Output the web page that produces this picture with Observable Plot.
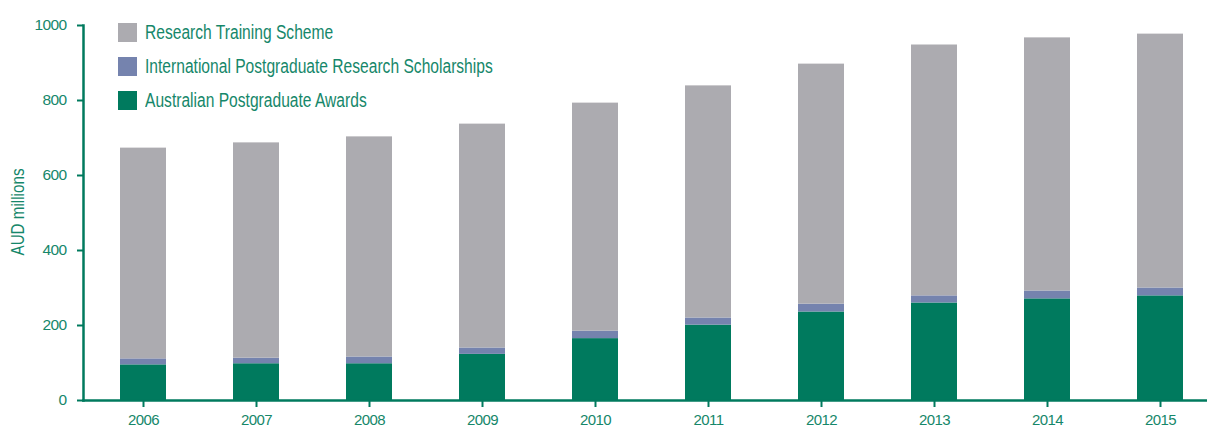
<!DOCTYPE html>
<html>
<head>
<meta charset="utf-8">
<script src="https://cdn.jsdelivr.net/npm/d3@7"></script>
<script src="https://cdn.jsdelivr.net/npm/@observablehq/plot@0.6"></script>
<style>
  html, body { margin: 0; padding: 0; background: #fff; }
  #wrap { position: relative; width: 1207px; height: 430px; font-family: "Liberation Sans Narrow", "Liberation Sans", sans-serif; font-stretch: condensed; }
  #chart svg text { font-stretch: condensed; letter-spacing: -0.6px; }
  #legend { position: absolute; left: 118px; top: 23px; }
  .row { display: flex; align-items: center; height: 19px; margin-bottom: 15px; }
  .sw { width: 19px; height: 19px; margin-right: 8px; flex: none; }
  .lab { color: #16876a; font-size: 19.5px; line-height: 19px; white-space: nowrap; transform: scaleX(0.8); transform-origin: left center; }
  #ylab { position: absolute; left: 18px; top: 212px; transform: translate(-50%, -50%) rotate(-90deg) scaleX(0.8); color: #16876a; font-size: 19px; white-space: nowrap; }
</style>
</head>
<body>
<div id="wrap">
  <div id="chart"></div>
  <div id="legend"></div>
  <div id="ylab">AUD millions</div>
</div>
<script>
const years = ["2006","2007","2008","2009","2010","2011","2012","2013","2014","2015"];
const seriesNames = ["Australian Postgraduate Awards", "International Postgraduate Research Scholarships", "Research Training Scheme"];
const apa  = [95, 98, 98, 123, 165, 201, 236, 260, 271, 279];
const iprs = [16, 15, 18, 17, 20, 19, 21, 19, 21, 21];
const rts  = [562, 574, 587, 597, 608, 619, 640, 669, 675, 677];
const colors = ["#007a5e", "#7583ae", "#acabb0"];
const yTicks = [0, 200, 400, 600, 800, 1000];

const rows = [];
[apa, iprs, rts].forEach((vals, si) => {
  years.forEach((yr, i) => rows.push({year: yr, series: seriesNames[si], value: vals[i]}));
});

const textColor = "#16876a";
const axisColor = "#007a5e";

const chart = Plot.plot({
  width: 1207,
  height: 430,
  marginLeft: 83,
  marginRight: 0,
  marginTop: 25,
  marginBottom: 30,
  style: {fontFamily: '"Liberation Sans Narrow", "Liberation Sans", sans-serif', fontSize: "15.5px", color: textColor, background: "#fff"},
  x: {domain: years, paddingInner: 0.5945, paddingOuter: 0.2515, align: 0.61, label: null},
  y: {domain: [0, 1000], label: null},
  color: {domain: seriesNames, range: colors},
  marks: [
    Plot.barY(rows, {x: "year", y: "value", fill: "series", order: seriesNames}),
    Plot.axisY({ticks: yTicks, tickFormat: d3.format("d"), tickSize: 6, tickPadding: 11, stroke: axisColor, strokeWidth: 2, fill: textColor, label: null, fontSize: 15.5}),
    Plot.axisX({tickSize: 7, tickPadding: 7, stroke: axisColor, strokeWidth: 2, fill: textColor, label: null, fontSize: 15}),
    Plot.frame({anchor: "left", stroke: axisColor, strokeWidth: 2.5}),
    Plot.frame({anchor: "bottom", stroke: axisColor, strokeWidth: 2.5})
  ]
});
document.getElementById("chart").appendChild(chart);

const legend = document.getElementById("legend");
[2, 1, 0].forEach(i => {
  const r = document.createElement("div");
  r.className = "row";
  r.innerHTML = `<div class="sw" style="background:${colors[i]}"></div><div class="lab">${seriesNames[i]}</div>`;
  legend.appendChild(r);
});
</script>
</body>
</html>
